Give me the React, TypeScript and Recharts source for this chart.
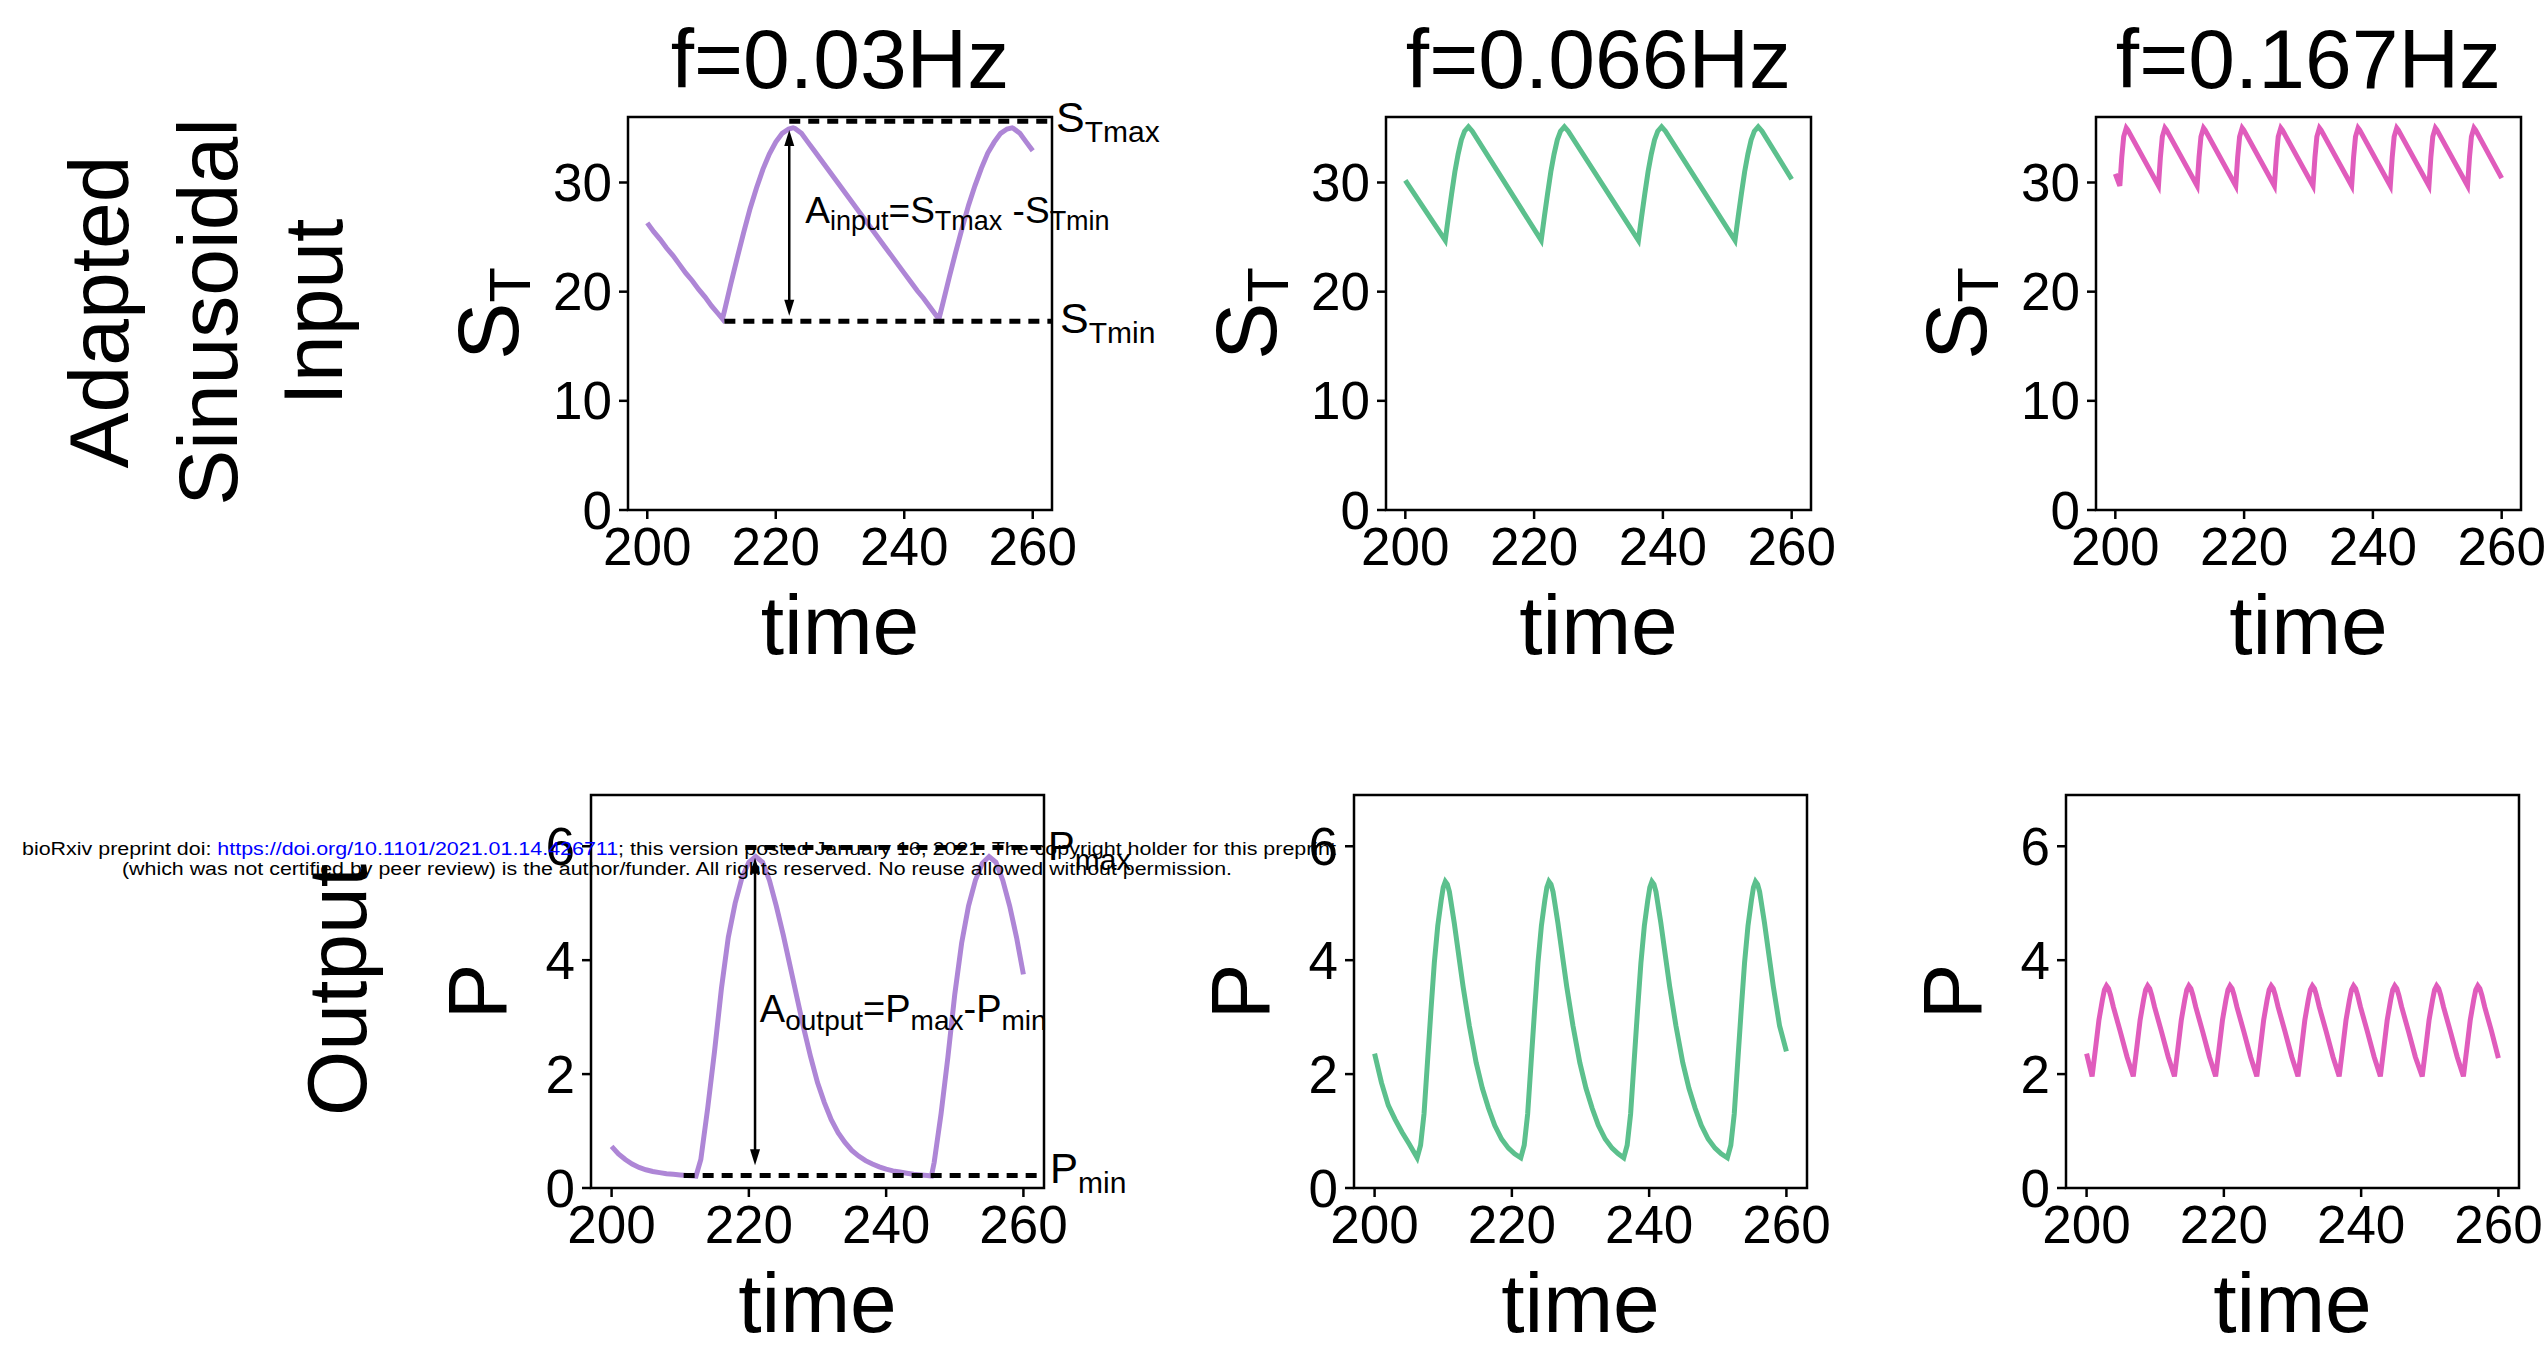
import React from "react";
import { LineChart, Line, XAxis, YAxis, ReferenceArea, ReferenceLine, ReferenceDot } from "recharts";

const FONT = "'Liberation Sans', Arial, Helvetica, sans-serif";

// axis setup
const X_DOMAIN: [number, number] = [197, 263];
const X_TICKS = [200, 220, 240, 260];
const S_TICKS = [0, 10, 20, 30];
const P_TICKS = [0, 2, 4, 6];
const S_MAX = 36;
const P_MAX = 6.9;

const titles = ["f=0.03Hz", "f=0.066Hz", "f=0.167Hz"];
const colors = ["#AE86D6", "#5CC08D", "#E05CBC"];

// input S_T, f = 0.03 Hz
const sT030Time = [
  200, 201, 202, 203, 204, 205, 206, 207, 208, 209, 210, 211, 211.7,
  212, 213, 214, 215, 216, 217, 218, 219, 220, 221, 222, 222.7,
  223, 224, 225, 226, 227, 228, 229, 230, 231, 232, 233, 234, 235, 236, 237, 238, 239, 240, 241, 242, 243, 244, 245, 245.4,
  246, 247, 248, 249, 250, 251, 252, 253, 254, 255, 256, 256.8,
  257, 258, 259, 260,
];
const sT030 = [
  26.3, 25.5, 24.8, 24.0, 23.3, 22.5, 21.7, 21.0, 20.2, 19.5, 18.7, 18.0, 17.5,
  18.2, 20.7, 23.1, 25.4, 27.6, 29.5, 31.2, 32.6, 33.7, 34.5, 34.9, 35.0,
  34.95, 34.5, 33.7, 32.9, 32.1, 31.3, 30.5, 29.7, 28.9, 28.1, 27.3, 26.5, 25.7, 24.9, 24.1, 23.3, 22.5, 21.7, 20.9, 20.1, 19.4, 18.6, 17.8, 17.5,
  18.9, 21.3, 23.6, 25.8, 27.9, 29.7, 31.3, 32.7, 33.7, 34.5, 34.9, 35.0,
  34.95, 34.5, 33.7, 32.9,
];

// input S_T, f = 0.066 Hz
const sT066Time = [
  200, 206.2, 206.7, 207.2, 207.7, 208.2, 208.7, 209.2, 209.8, 210.4,
  221.1, 221.6, 222.1, 222.6, 223.1, 223.6, 224.1, 224.7, 225.3,
  236.2, 236.7, 237.2, 237.7, 238.2, 238.7, 239.2, 239.8, 240.4,
  251.2, 251.7, 252.2, 252.7, 253.2, 253.7, 254.2, 254.8, 255.4,
  260,
];
const sT066 = [
  30.2, 24.7, 26.9, 29.0, 31.0, 32.6, 33.9, 34.7, 35.1, 34.7,
  24.7, 26.9, 29.0, 31.0, 32.6, 33.9, 34.7, 35.1, 34.7,
  24.7, 26.9, 29.0, 31.0, 32.6, 33.9, 34.7, 35.1, 34.7,
  24.7, 26.9, 29.0, 31.0, 32.6, 33.9, 34.7, 35.1, 34.7,
  30.3,
];

// input S_T, f = 0.167 Hz
const sT167Time = [
  200,
  200.7, 201.0, 201.3, 201.7, 201.95,
  206.7, 207.0, 207.3, 207.7, 207.95,
  212.7, 213.0, 213.3, 213.7, 213.95,
  218.7, 219.0, 219.3, 219.7, 219.95,
  224.7, 225.0, 225.3, 225.7, 225.95,
  230.7, 231.0, 231.3, 231.7, 231.95,
  236.7, 237.0, 237.3, 237.7, 237.95,
  242.7, 243.0, 243.3, 243.7, 243.95,
  248.7, 249.0, 249.3, 249.7, 249.95,
  254.7, 255.0, 255.3, 255.7, 255.95,
  260,
];
const sT167 = [
  30.8,
  29.7, 32.3, 34.2, 35.0, 34.8,
  29.7, 32.3, 34.2, 35.0, 34.8,
  29.7, 32.3, 34.2, 35.0, 34.8,
  29.7, 32.3, 34.2, 35.0, 34.8,
  29.7, 32.3, 34.2, 35.0, 34.8,
  29.7, 32.3, 34.2, 35.0, 34.8,
  29.7, 32.3, 34.2, 35.0, 34.8,
  29.7, 32.3, 34.2, 35.0, 34.8,
  29.7, 32.3, 34.2, 35.0, 34.8,
  29.7, 32.3, 34.2, 35.0, 34.8,
  30.4,
];

// output P, f = 0.03 Hz
const p030Time = [
  200, 201, 202, 203, 204, 205, 206, 207, 208, 209, 210, 211, 212.3,
  213, 214, 215, 216, 217, 218, 219, 220, 221, 222, 223, 224, 225, 226, 227, 228, 229, 230,
  231, 232, 233, 234, 235, 236, 237, 238, 239, 240, 241, 242, 243, 244, 245, 246, 246.6,
  247, 248, 249, 250, 251, 252, 253, 254, 255, 256, 257, 258, 259, 260,
];
const p030 = [
  0.73, 0.6, 0.5, 0.42, 0.36, 0.32, 0.29, 0.27, 0.25, 0.24, 0.23, 0.22, 0.21,
  0.5, 1.4, 2.4, 3.5, 4.4, 5.0, 5.45, 5.72, 5.82, 5.72, 5.4, 4.95, 4.45, 3.9, 3.35, 2.8, 2.3, 1.85,
  1.5, 1.2, 0.97, 0.8, 0.66, 0.56, 0.48, 0.42, 0.37, 0.33, 0.3, 0.28, 0.26, 0.24, 0.23, 0.22, 0.21,
  0.45, 1.3, 2.3, 3.4, 4.3, 4.95, 5.4, 5.7, 5.82, 5.72, 5.4, 4.95, 4.4, 3.75,
];

// output P, f = 0.066 Hz
const p066Time = [
  200, 201, 202, 203, 204, 205, 206.2,
  206.7, 207.2, 207.7, 208.2, 208.7, 209.2, 209.7, 210.0, 210.3, 210.6, 210.9, 211.6, 212.3, 212.9, 213.8, 214.8, 215.7, 216.6, 217.5, 218.5, 219.5, 220.4, 221.3,
  221.8, 222.3, 222.8, 223.3, 223.8, 224.3, 224.8, 225.1, 225.4, 225.7, 226.0, 226.7, 227.4, 228.0, 228.9, 229.9, 230.8, 231.7, 232.6, 233.6, 234.6, 235.5, 236.3,
  236.8, 237.3, 237.8, 238.3, 238.8, 239.3, 239.8, 240.1, 240.4, 240.7, 241.0, 241.7, 242.4, 243.0, 243.9, 244.9, 245.8, 246.7, 247.6, 248.6, 249.6, 250.5, 251.4,
  251.9, 252.4, 252.9, 253.4, 253.9, 254.4, 254.9, 255.2, 255.5, 255.8, 256.1, 256.8, 257.5, 258.1, 259.0, 260,
];
const p066 = [
  2.36, 1.85, 1.45, 1.2, 0.98, 0.78, 0.53,
  0.75, 1.3, 2.2, 3.1, 3.95, 4.6, 5.05, 5.28, 5.38, 5.33, 5.2, 4.66, 4.05, 3.53, 2.85, 2.2, 1.75, 1.4, 1.1, 0.86, 0.7, 0.6, 0.53,
  0.75, 1.3, 2.2, 3.1, 3.95, 4.6, 5.05, 5.28, 5.38, 5.33, 5.2, 4.66, 4.05, 3.53, 2.85, 2.2, 1.75, 1.4, 1.1, 0.86, 0.7, 0.6, 0.53,
  0.75, 1.3, 2.2, 3.1, 3.95, 4.6, 5.05, 5.28, 5.38, 5.33, 5.2, 4.66, 4.05, 3.53, 2.85, 2.2, 1.75, 1.4, 1.1, 0.86, 0.7, 0.6, 0.53,
  0.75, 1.3, 2.2, 3.1, 3.95, 4.6, 5.05, 5.28, 5.38, 5.33, 5.2, 4.66, 4.05, 3.53, 2.85, 2.4,
];

// output P, f = 0.167 Hz
const p167Time = [
  200,
  200.8, 201.3, 201.8, 202.3, 202.6, 202.9, 203.2, 203.5, 203.9, 204.9, 205.9,
  206.8, 207.3, 207.8, 208.3, 208.6, 208.9, 209.2, 209.5, 209.9, 210.9, 211.9,
  212.8, 213.3, 213.8, 214.3, 214.6, 214.9, 215.2, 215.5, 215.9, 216.9, 217.9,
  218.8, 219.3, 219.8, 220.3, 220.6, 220.9, 221.2, 221.5, 221.9, 222.9, 223.9,
  224.8, 225.3, 225.8, 226.3, 226.6, 226.9, 227.2, 227.5, 227.9, 228.9, 229.9,
  230.8, 231.3, 231.8, 232.3, 232.6, 232.9, 233.2, 233.5, 233.9, 234.9, 235.9,
  236.8, 237.3, 237.8, 238.3, 238.6, 238.9, 239.2, 239.5, 239.9, 240.9, 241.9,
  242.8, 243.3, 243.8, 244.3, 244.6, 244.9, 245.2, 245.5, 245.9, 246.9, 247.9,
  248.9, 249.4, 249.9, 250.4, 250.7, 251.0, 251.3, 251.6, 252.0, 253.0, 254.0,
  254.9, 255.4, 255.9, 256.4, 256.7, 257.0, 257.3, 257.6, 258.0, 259.0, 260,
];
const p167 = [
  2.36,
  1.96, 2.45, 2.95, 3.3, 3.48, 3.55, 3.5, 3.38, 3.18, 2.75, 2.3,
  1.96, 2.45, 2.95, 3.3, 3.48, 3.55, 3.5, 3.38, 3.18, 2.75, 2.3,
  1.96, 2.45, 2.95, 3.3, 3.48, 3.55, 3.5, 3.38, 3.18, 2.75, 2.3,
  1.96, 2.45, 2.95, 3.3, 3.48, 3.55, 3.5, 3.38, 3.18, 2.75, 2.3,
  1.96, 2.45, 2.95, 3.3, 3.48, 3.55, 3.5, 3.38, 3.18, 2.75, 2.3,
  1.96, 2.45, 2.95, 3.3, 3.48, 3.55, 3.5, 3.38, 3.18, 2.75, 2.3,
  1.96, 2.45, 2.95, 3.3, 3.48, 3.55, 3.5, 3.38, 3.18, 2.75, 2.3,
  1.96, 2.45, 2.95, 3.3, 3.48, 3.55, 3.5, 3.38, 3.18, 2.75, 2.3,
  1.96, 2.45, 2.95, 3.3, 3.48, 3.55, 3.5, 3.38, 3.18, 2.75, 2.3,
  1.96, 2.45, 2.95, 3.3, 3.48, 3.55, 3.5, 3.38, 3.18, 2.75, 2.28,
];

// annotation levels (first column)
const sTmaxLevel = 35.6;
const sTminLevel = 17.3;
const pMaxLevel = 5.98;
const pMinLevel = 0.22;

// panel boxes (axes area in page pixels)
type Box = { left: number; top: number; width: number; height: number };
const TOP_Y = 117;
const BOT_Y = 795;
const boxes: Box[] = [
  { left: 628, top: TOP_Y, width: 424, height: 393 },
  { left: 1386, top: TOP_Y, width: 425, height: 393 },
  { left: 2096, top: TOP_Y, width: 425, height: 393 },
  { left: 591, top: BOT_Y, width: 453, height: 393 },
  { left: 1354, top: BOT_Y, width: 453, height: 393 },
  { left: 2066, top: BOT_Y, width: 453, height: 393 },
];

const PAD_L = 140;
const PAD_R = 140;
const PAD_T = 20;
const PAD_B = 80;
const Y_W = 130;
const X_H = 70;

const XTick = (props: any) => {
  const { x, y, payload } = props;
  return (
    <text x={x} y={y + 44} textAnchor="middle" fontSize={53} fontFamily={FONT} fill="#000">
      {payload.value}
    </text>
  );
};

const YTick = (props: any) => {
  const { x, y, payload } = props;
  return (
    <text x={x} y={y} textAnchor="end" dominantBaseline="central" fontSize={53} fontFamily={FONT} fill="#000">
      {payload.value}
    </text>
  );
};

// text with subscripts: parts = [text, isSub]
function mathText(x: number, y: number, parts: [string, boolean][], big: number, small: number, shift: number) {
  let prev = false;
  return (
    <text x={x} y={y} fontFamily={FONT} fill="#000" fontSize={big}>
      {parts.map(([s, sub], i) => {
        const dy = sub && !prev ? shift : !sub && prev ? -shift : 0;
        prev = sub;
        return (
          <tspan key={i} dy={dy} fontSize={sub ? small : big}>
            {s}
          </tspan>
        );
      })}
    </text>
  );
}

const arrowShape = (p: any) => {
  const x = p.x1;
  const top = Math.min(p.y1, p.y2);
  const bot = Math.max(p.y1, p.y2);
  const hl = 16;
  const hw = 5;
  return (
    <g>
      <line x1={x} y1={top + 6} x2={x} y2={bot - 6} stroke="#000" strokeWidth={2.5} />
      <polygon points={`${x},${top} ${x - hw},${top + hl} ${x + hw},${top + hl}`} fill="#000" />
      <polygon points={`${x},${bot} ${x - hw},${bot - hl} ${x + hw},${bot - hl}`} fill="#000" />
    </g>
  );
};

const dashed = { stroke: "#000", strokeWidth: 5, strokeDasharray: "11 8" };

function inputNotes() {
  return [
    <ReferenceLine key="d1" segment={[{ x: 222.1, y: sTmaxLevel }, { x: 263, y: sTmaxLevel }]} {...dashed} ifOverflow="visible" />,
    <ReferenceLine key="d2" segment={[{ x: 212, y: sTminLevel }, { x: 263, y: sTminLevel }]} {...dashed} ifOverflow="visible" />,
    <ReferenceLine key="ar" segment={[{ x: 222.1, y: 34.8 }, { x: 222.1, y: 17.8 }]} shape={arrowShape} ifOverflow="visible" />,
    <ReferenceDot
      key="t1" x={224.6} y={26.3} r={0} ifOverflow="visible"
      shape={(p: any) => mathText(p.cx, p.cy, [["A", false], ["input", true], ["=S", false], ["Tmax", true], [" -S", false], ["Tmin", true]], 37, 27, 7)}
    />,
    <ReferenceDot
      key="t2" x={263} y={sTmaxLevel} r={0} ifOverflow="visible"
      shape={(p: any) => mathText(p.cx + 4, p.cy + 11, [["S", false], ["Tmax", true]], 43, 30, 10)}
    />,
    <ReferenceDot
      key="t3" x={263} y={sTminLevel} r={0} ifOverflow="visible"
      shape={(p: any) => mathText(p.cx + 8, p.cy + 12, [["S", false], ["Tmin", true]], 43, 30, 10)}
    />,
  ];
}

function outputNotes() {
  return [
    <ReferenceLine key="d1" segment={[{ x: 219.5, y: pMaxLevel }, { x: 263, y: pMaxLevel }]} {...dashed} ifOverflow="visible" />,
    <ReferenceLine key="d2" segment={[{ x: 210.5, y: pMinLevel }, { x: 263, y: pMinLevel }]} {...dashed} ifOverflow="visible" />,
    <ReferenceLine key="ar" segment={[{ x: 220.9, y: 5.8 }, { x: 220.9, y: 0.4 }]} shape={arrowShape} ifOverflow="visible" />,
    <ReferenceDot
      key="t1" x={221.6} y={2.92} r={0} ifOverflow="visible"
      shape={(p: any) => mathText(p.cx, p.cy, [["A", false], ["output", true], ["=P", false], ["max", true], ["-P", false], ["min", true]], 38, 28, 8)}
    />,
    <ReferenceDot
      key="t2" x={263} y={pMaxLevel} r={0} ifOverflow="visible"
      shape={(p: any) => mathText(p.cx + 4, p.cy + 13, [["P", false], ["max", true]], 40, 30, 10)}
    />,
    <ReferenceDot
      key="t3" x={263} y={pMinLevel} r={0} ifOverflow="visible"
      shape={(p: any) => mathText(p.cx + 6, p.cy + 8, [["P", false], ["min", true]], 42, 30, 10)}
    />,
  ];
}

type PanelProps = {
  box: Box;
  times: number[];
  values: number[];
  color: string;
  yMax: number;
  yTicks: number[];
  notes?: React.ReactNode;
};

function Panel({ box, times, values, color, yMax, yTicks, notes }: PanelProps) {
  const data = times.map((t, i) => ({ t, v: values[i] }));
  return (
    <div style={{ position: "absolute", left: box.left - PAD_L, top: box.top - PAD_T }}>
      <LineChart
        width={box.width + PAD_L + PAD_R}
        height={box.height + PAD_T + PAD_B}
        data={data}
        margin={{ top: PAD_T, right: PAD_R, bottom: PAD_B - X_H, left: PAD_L - Y_W }}
        style={{ overflow: "visible" }}
      >
        <XAxis
          dataKey="t"
          type="number"
          domain={X_DOMAIN}
          ticks={X_TICKS}
          allowDataOverflow
          height={X_H}
          tickSize={9}
          tickMargin={2}
          axisLine={false}
          tickLine={{ stroke: "#000", strokeWidth: 2.5 }}
          tick={XTick}
        />
        <YAxis
          type="number"
          domain={[0, yMax]}
          ticks={yTicks}
          allowDataOverflow
          width={Y_W}
          tickSize={9}
          tickMargin={7}
          axisLine={false}
          tickLine={{ stroke: "#000", strokeWidth: 2.5 }}
          tick={YTick}
        />
        <ReferenceArea x1={X_DOMAIN[0]} x2={X_DOMAIN[1]} y1={0} y2={yMax} fill="none" stroke="#000" strokeWidth={2.5} />
        <Line dataKey="v" type="linear" stroke={color} strokeWidth={5} dot={false} isAnimationActive={false} />
        {notes}
      </LineChart>
    </div>
  );
}

export default function App() {
  const centerX = (b: Box) => b.left + b.width / 2;
  const centerY = (b: Box) => b.top + b.height / 2;
  return (
    <div style={{ position: "relative", width: 2547, height: 1351, background: "#fff", overflow: "hidden", fontFamily: FONT }}>
      <style>{"body{margin:0}"}</style>
      <Panel box={boxes[0]} times={sT030Time} values={sT030} color={colors[0]} yMax={S_MAX} yTicks={S_TICKS} notes={inputNotes()} />
      <Panel box={boxes[1]} times={sT066Time} values={sT066} color={colors[1]} yMax={S_MAX} yTicks={S_TICKS} />
      <Panel box={boxes[2]} times={sT167Time} values={sT167} color={colors[2]} yMax={S_MAX} yTicks={S_TICKS} />
      <Panel box={boxes[3]} times={p030Time} values={p030} color={colors[0]} yMax={P_MAX} yTicks={P_TICKS} notes={outputNotes()} />
      <Panel box={boxes[4]} times={p066Time} values={p066} color={colors[1]} yMax={P_MAX} yTicks={P_TICKS} />
      <Panel box={boxes[5]} times={p167Time} values={p167} color={colors[2]} yMax={P_MAX} yTicks={P_TICKS} />

      <svg width={2547} height={1351} style={{ position: "absolute", left: 0, top: 0, pointerEvents: "none" }} fontFamily={FONT}>
        {titles.map((t, i) => (
          <text key={t} x={centerX(boxes[i])} y={88} textAnchor="middle" fontSize={84} fill="#000">
            {t}
          </text>
        ))}
        {boxes.map((b, i) => (
          <text key={"xl" + i} x={centerX(b)} y={b.top + b.height + 144} textAnchor="middle" fontSize={84} fill="#000">
            time
          </text>
        ))}
        {boxes.slice(0, 3).map((b, i) => (
          <text key={"ys" + i} transform={`translate(${b.left - 110},${centerY(b)}) rotate(-90)`} textAnchor="middle" fontSize={86} fill="#000">
            S<tspan fontSize={58} dy={12}>T</tspan>
          </text>
        ))}
        {boxes.slice(3).map((b, i) => (
          <text key={"yp" + i} transform={`translate(${b.left - 85},${centerY(b)}) rotate(-90)`} textAnchor="middle" fontSize={84} fill="#000">
            P
          </text>
        ))}
        <g fontSize={84} fill="#000" textAnchor="middle">
          <text transform="translate(128,312) rotate(-90)">Adapted</text>
          <text transform="translate(237,312) rotate(-90)">Sinusoidal</text>
          <text transform="translate(342,312) rotate(-90)">Input</text>
          <text transform="translate(366,990) rotate(-90)">Output</text>
        </g>
        <g fontSize={18} fill="#000" textAnchor="middle">
          <text x={679} y={855} textLength={1314} lengthAdjust="spacingAndGlyphs">
            bioRxiv preprint doi: <tspan fill="#0000ff">https://doi.org/10.1101/2021.01.14.426711</tspan>; this version posted January 16, 2021. The copyright holder for this preprint
          </text>
          <text x={677} y={875} textLength={1110} lengthAdjust="spacingAndGlyphs">
            (which was not certified by peer review) is the author/funder. All rights reserved. No reuse allowed without permission.
          </text>
        </g>
      </svg>
    </div>
  );
}
